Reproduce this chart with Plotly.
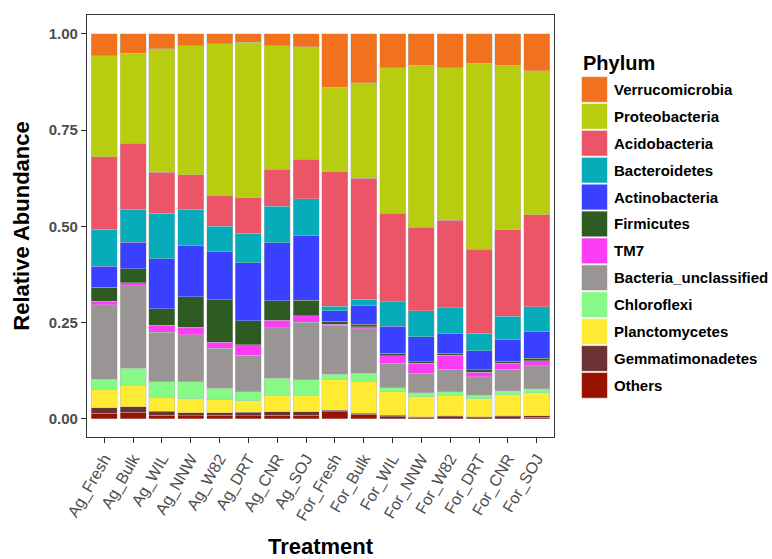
import plotly.graph_objects as go

treatments = ["Ag_Fresh", "Ag_Bulk", "Ag_WIL", "Ag_NNW", "Ag_W82", "Ag_DRT", "Ag_CNR", "Ag_SOJ",
              "For_Fresh", "For_Bulk", "For_WIL", "For_NNW", "For_W82", "For_DRT", "For_CNR", "For_SOJ"]

# Legend order (top to bottom); stacking is the reverse (Others at the bottom)
phyla = ["Verrucomicrobia", "Proteobacteria", "Acidobacteria", "Bacteroidetes", "Actinobacteria",
         "Firmicutes", "TM7", "Bacteria_unclassified", "Chloroflexi", "Planctomycetes",
         "Gemmatimonadetes", "Others"]

verrucomicrobia = [0.057, 0.050, 0.039, 0.031, 0.026, 0.022, 0.031, 0.033, 0.139, 0.127, 0.088, 0.082, 0.088, 0.076, 0.081, 0.096]
proteobacteria = [0.262, 0.234, 0.321, 0.335, 0.394, 0.403, 0.320, 0.292, 0.219, 0.248, 0.378, 0.420, 0.396, 0.484, 0.428, 0.374]
acidobacteria = [0.188, 0.171, 0.106, 0.089, 0.079, 0.093, 0.097, 0.103, 0.350, 0.314, 0.230, 0.217, 0.227, 0.217, 0.225, 0.239]
bacteroidetes = [0.097, 0.086, 0.118, 0.095, 0.066, 0.076, 0.094, 0.096, 0.011, 0.016, 0.064, 0.067, 0.067, 0.046, 0.060, 0.063]
actinobacteria = [0.054, 0.069, 0.130, 0.133, 0.125, 0.151, 0.151, 0.168, 0.027, 0.049, 0.069, 0.065, 0.052, 0.049, 0.056, 0.070]
firmicutes = [0.037, 0.037, 0.043, 0.079, 0.111, 0.063, 0.051, 0.040, 0.008, 0.007, 0.007, 0.004, 0.005, 0.007, 0.006, 0.007]
tm7 = [0.009, 0.007, 0.018, 0.019, 0.015, 0.027, 0.019, 0.017, 0.003, 0.005, 0.019, 0.026, 0.036, 0.011, 0.015, 0.013]
bacteria_unclassified = [0.193, 0.214, 0.129, 0.122, 0.104, 0.094, 0.131, 0.149, 0.127, 0.116, 0.064, 0.051, 0.058, 0.049, 0.056, 0.060]
chloroflexi = [0.027, 0.045, 0.040, 0.045, 0.030, 0.024, 0.044, 0.041, 0.014, 0.020, 0.011, 0.010, 0.009, 0.008, 0.010, 0.010]
planctomycetes = [0.047, 0.056, 0.036, 0.036, 0.034, 0.030, 0.043, 0.043, 0.080, 0.083, 0.061, 0.052, 0.054, 0.048, 0.055, 0.060]
gemmatimonadetes = [0.014, 0.014, 0.010, 0.008, 0.007, 0.009, 0.009, 0.008, 0.003, 0.003, 0.003, 0.002, 0.003, 0.002, 0.003, 0.004]
others = [0.015, 0.017, 0.010, 0.008, 0.009, 0.008, 0.010, 0.010, 0.019, 0.012, 0.006, 0.004, 0.005, 0.003, 0.005, 0.004]

series = {
    "Verrucomicrobia": verrucomicrobia,
    "Proteobacteria": proteobacteria,
    "Acidobacteria": acidobacteria,
    "Bacteroidetes": bacteroidetes,
    "Actinobacteria": actinobacteria,
    "Firmicutes": firmicutes,
    "TM7": tm7,
    "Bacteria_unclassified": bacteria_unclassified,
    "Chloroflexi": chloroflexi,
    "Planctomycetes": planctomycetes,
    "Gemmatimonadetes": gemmatimonadetes,
    "Others": others,
}

colors = {
    "Verrucomicrobia": "#F2711C",
    "Proteobacteria": "#B8CC10",
    "Acidobacteria": "#EC5468",
    "Bacteroidetes": "#06ACBA",
    "Actinobacteria": "#3A40FF",
    "Firmicutes": "#2E5B22",
    "TM7": "#FC3DF5",
    "Bacteria_unclassified": "#999594",
    "Chloroflexi": "#86F987",
    "Planctomycetes": "#FFEB33",
    "Gemmatimonadetes": "#6C3133",
    "Others": "#991200",
}

y_ticks = [0.0, 0.25, 0.5, 0.75, 1.0]
y_ticklabels = ["0.00", "0.25", "0.50", "0.75", "1.00"]

FONT = "Liberation Sans, Arial, Helvetica, sans-serif"

W, H = 772, 559
L, R, T, B = 87, 218, 15, 122
PW, PH = W - L - R, H - T - B


def px_x(px):
    return (px - L) / PW


def px_y(py):
    return (H - B - py) / PH


fig = go.Figure()
for name in reversed(phyla):
    fig.add_trace(go.Bar(
        x=treatments, y=series[name], name=name,
        marker=dict(color=colors[name], line=dict(color="rgba(190,190,190,0.7)", width=0.6)),
        width=0.9, showlegend=False,
    ))

# Manual legend (ggplot-style large keys)
shapes = []
annotations = []
key_top, key_step = 76.0, 26.9
for i, name in enumerate(phyla):
    top = key_top + i * key_step
    shapes.append(dict(type="rect", xref="paper", yref="paper",
                       x0=px_x(581.5), x1=px_x(607.5),
                       y0=px_y(top + 0.6), y1=px_y(top + key_step - 0.6),
                       fillcolor=colors[name], line=dict(color="rgba(255,255,255,0.9)", width=0.6)))
    annotations.append(dict(xref="paper", yref="paper", x=px_x(612), y=px_y(top + key_step / 2),
                            xanchor="left", yanchor="middle", showarrow=False,
                            text="<b>%s</b>" % name,
                            font=dict(family=FONT, size=15, color="#000000")))
annotations.append(dict(xref="paper", yref="paper", x=px_x(581), y=px_y(63),
                        xanchor="left", yanchor="middle", showarrow=False,
                        text="<b>Phylum</b>", font=dict(family=FONT, size=20, color="#000000")))

fig.update_layout(
    barmode="stack",
    width=W, height=H,
    margin=dict(l=L, r=R, t=T, b=B, pad=0, autoexpand=False),
    paper_bgcolor="white", plot_bgcolor="white",
    font=dict(family=FONT),
    shapes=shapes, annotations=annotations,
    bargap=0.1,
)
fig.update_xaxes(
    automargin=False,
    range=[-0.6, 15.6], showgrid=False, zeroline=False,
    showline=True, mirror=True, linecolor="#333333", linewidth=1.2,
    ticks="outside", ticklen=5, tickcolor="#333333", tickwidth=1,
    tickangle=-60, tickfont=dict(family=FONT, size=16, color="#4D4D4D"),
    title=dict(text="<b>Treatment</b>", font=dict(family=FONT, size=22, color="#000000"), standoff=18),
)
fig.update_yaxes(
    automargin=False,
    range=[-0.047, 1.049], showgrid=False, zeroline=False,
    showline=True, mirror=True, linecolor="#333333", linewidth=1.2,
    ticks="outside", ticklen=5, tickcolor="#333333", tickwidth=1,
    tickvals=y_ticks, ticktext=["<b>%s</b>" % t for t in y_ticklabels],
    tickfont=dict(family=FONT, size=15, color="#4D4D4D"),
    title=dict(text="<b>Relative Abundance</b>", font=dict(family=FONT, size=22, color="#000000"), standoff=12),
)

fig.write_html("out.html", config={"displayModeBar": False},
               post_script="document.body.style.margin='0px';document.body.style.overflow='hidden';")
